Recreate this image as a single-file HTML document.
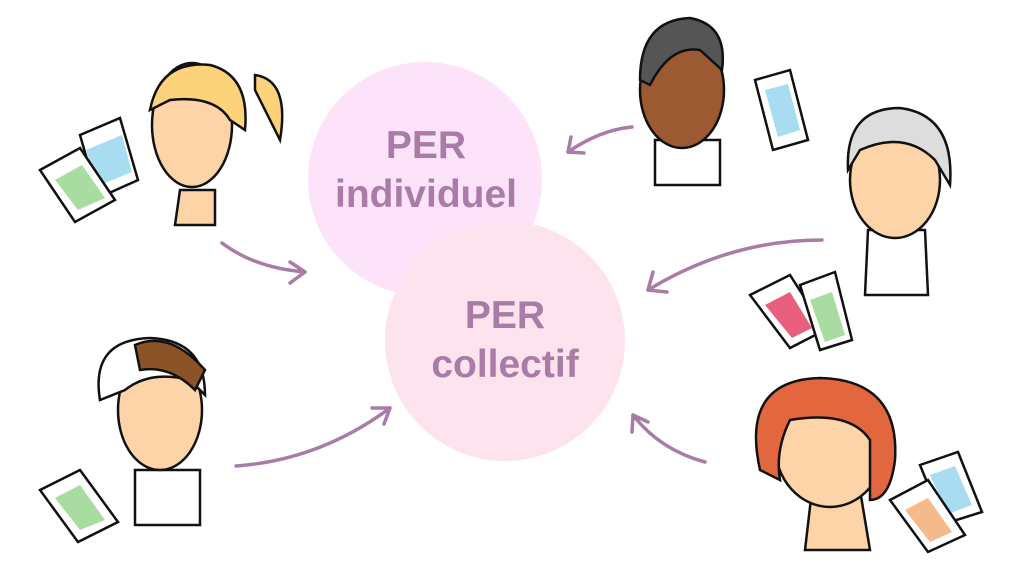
<!DOCTYPE html>
<html><head><style>body{margin:0;background:#fff}svg{display:block}</style></head><body>
<svg width="1024" height="576" viewBox="0 0 1024 576" xmlns="http://www.w3.org/2000/svg" font-family="Liberation Sans, sans-serif">
<circle cx="425" cy="179" r="117" fill="#fce3f9"/>
<circle cx="505" cy="341" r="120" fill="#fde3ee"/>
<g fill="#a97ba6" font-weight="bold" font-size="39" text-anchor="middle">
<text x="426" y="158">PER</text><text x="426" y="207">individuel</text>
<text x="505" y="328">PER</text><text x="505" y="377">collectif</text>
</g>
<g fill="none" stroke="#a97ba6" stroke-width="3.5" stroke-linecap="round" stroke-linejoin="round">
<path d="M222 243 Q255 268 305 272"/><path d="M290 262 L305 272 L290 283"/>
<path d="M632 127 Q600 130 568 152"/><path d="M571 137 L568 152 L584 153"/>
<path d="M822 240 Q730 240 648 290"/><path d="M653 272 L648 290 L667 292"/>
<path d="M236 466 Q320 460 390 408"/><path d="M372 408 L390 408 L384 424"/>
<path d="M705 462 Q660 450 633 415"/><path d="M632 432 L633 415 L648 422"/>
</g>
<g stroke="#111" stroke-width="2.5">
<!-- top-left woman -->
<path d="M180 190 L175 225 L215 225 L215 190Z" fill="#fcd4a8"/>
<ellipse cx="192" cy="125" rx="40" ry="62" fill="#fcd4a8"/>
<path d="M150 110 Q160 60 210 65 Q250 75 245 130 L230 120 Q215 95 170 100Z" fill="#fcd27a"/>
<path d="M255 75 Q290 80 280 140 Q265 110 255 90Z" fill="#fcd27a"/>
<!-- top-left bills -->
<path d="M80 135 L120 118 L138 180 L98 198Z" fill="#fff"/><path d="M86 150 L122 135 L132 172 L98 186Z" fill="#a8dcf0" stroke="none"/>
<path d="M40 170 L80 148 L115 200 L75 222Z" fill="#fff"/><path d="M55 180 L82 165 L105 198 L78 210Z" fill="#a9dca0" stroke="none"/>
<!-- top-right man -->
<path d="M655 140 L655 185 L720 185 L720 140Z" fill="#fff"/>
<ellipse cx="682" cy="90" rx="42" ry="58" fill="#9c5a32"/>
<path d="M640 80 Q640 20 690 18 Q728 25 722 70 L700 50 Q670 45 650 85Z" fill="#555"/>
<path d="M755 80 L790 70 L808 140 L773 150Z" fill="#fff"/><path d="M765 90 L788 84 L800 130 L778 137Z" fill="#a8dcf0" stroke="none"/>
<!-- right woman glasses -->
<path d="M868 230 L865 295 L928 295 L925 230Z" fill="#fff"/>
<ellipse cx="895" cy="180" rx="45" ry="58" fill="#fcd4a8"/>
<path d="M848 170 Q845 108 900 108 Q955 115 950 185 L935 160 Q905 130 860 150Z" fill="#ddd"/>
<path d="M750 295 L790 275 L825 330 L790 348Z" fill="#fff"/><path d="M765 305 L790 292 L812 328 L792 338Z" fill="#e8607e" stroke="none"/>
<path d="M800 285 L835 272 L852 340 L820 350Z" fill="#fff"/><path d="M810 300 L832 292 L845 335 L825 342Z" fill="#a9dca0" stroke="none"/>
<!-- bottom-left man -->
<path d="M135 470 L135 525 L200 525 L200 470Z" fill="#fff"/>
<ellipse cx="160" cy="410" rx="42" ry="60" fill="#fcd4a8"/>
<path d="M100 400 Q90 340 150 338 Q205 340 205 395 L190 380 Q150 370 125 390Z" fill="#fff"/>
<path d="M135 345 Q170 330 205 370 L195 390 Q170 365 140 370Z" fill="#8b5426"/>
<path d="M40 490 L80 470 L118 522 L78 542Z" fill="#fff"/><path d="M55 498 L80 485 L105 520 L80 530Z" fill="#a9dca0" stroke="none"/>
<!-- bottom-right woman -->
<path d="M812 490 L805 550 L870 550 L860 490Z" fill="#fcd4a8"/>
<ellipse cx="830" cy="445" rx="55" ry="62" fill="#fcd4a8"/>
<path d="M760 470 Q740 380 820 378 Q900 380 895 460 Q890 500 870 500 L870 440 Q850 410 790 420 Q775 450 780 480Z" fill="#e2663e"/>
<path d="M920 465 L958 452 L982 512 L944 524Z" fill="#fff"/><path d="M930 475 L955 466 L972 505 L948 514Z" fill="#a8dcf0" stroke="none"/>
<path d="M890 500 L928 480 L965 535 L928 552Z" fill="#fff"/><path d="M905 510 L928 498 L952 532 L930 542Z" fill="#f5b98a" stroke="none"/>
</g>
</svg>
</body></html>
